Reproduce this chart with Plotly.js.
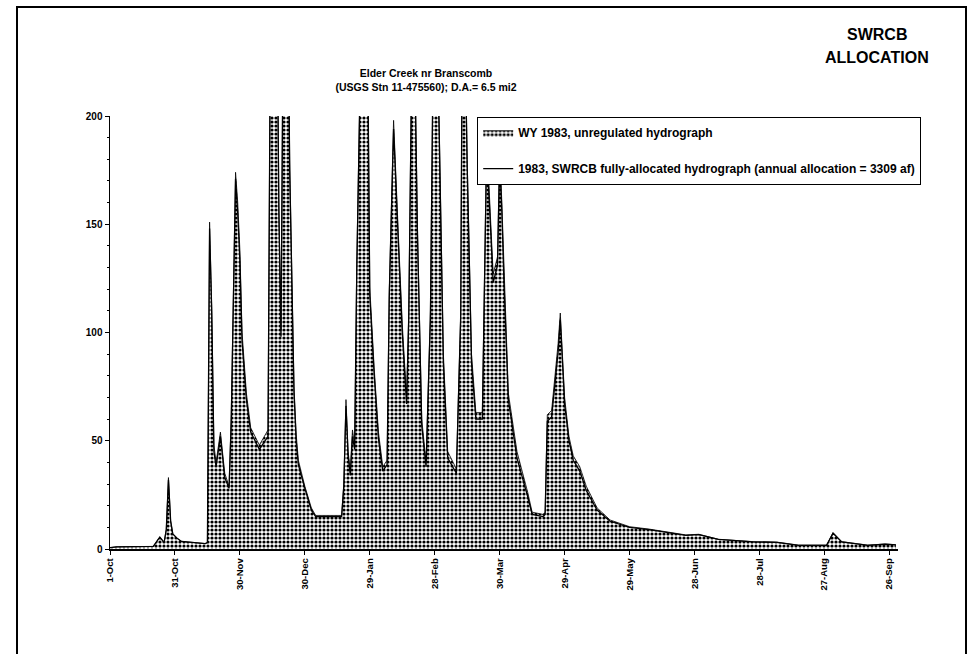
<!DOCTYPE html>
<html>
<head>
<meta charset="utf-8">
<script src="https://cdn.plot.ly/plotly-3.0.1.min.js"></script>
<style>
  html, body { margin: 0; padding: 0; background: #fff; }
  #chart { width: 969px; height: 654px; }
</style>
</head>
<body>
<div id="chart"></div>
<script>
// ---- data ----
const unregDates = [
  '1982-10-01','1982-10-04','1982-10-21','1982-10-24','1982-10-26','1982-10-27','1982-10-28','1982-10-29','1982-10-30',
  '1982-11-01','1982-11-03','1982-11-14','1982-11-15','1982-11-16','1982-11-17','1982-11-18','1982-11-19','1982-11-21',
  '1982-11-23','1982-11-25','1982-11-26','1982-11-27','1982-11-28','1982-11-29','1982-11-30',
  '1982-12-01','1982-12-03','1982-12-05','1982-12-09','1982-12-13','1982-12-14','1982-12-15','1982-12-17','1982-12-18',
  '1982-12-19','1982-12-20','1982-12-22','1982-12-23','1982-12-24','1982-12-25','1982-12-26','1982-12-27','1982-12-30',
  '1983-01-02','1983-01-04','1983-01-16','1983-01-17','1983-01-18','1983-01-19','1983-01-20','1983-01-21','1983-01-22',
  '1983-01-23','1983-01-24','1983-01-26','1983-01-28','1983-01-29','1983-01-31',
  '1983-02-02','1983-02-04','1983-02-06','1983-02-07','1983-02-09','1983-02-11','1983-02-13','1983-02-15','1983-02-16',
  '1983-02-18','1983-02-20','1983-02-22','1983-02-24','1983-02-26','1983-02-28',
  '1983-03-02','1983-03-04','1983-03-06','1983-03-10','1983-03-12','1983-03-13','1983-03-15','1983-03-17','1983-03-19',
  '1983-03-22','1983-03-24','1983-03-26','1983-03-27','1983-03-29','1983-03-30','1983-03-31',
  '1983-04-01','1983-04-03','1983-04-07','1983-04-12','1983-04-14','1983-04-19','1983-04-20','1983-04-21','1983-04-23',
  '1983-04-26','1983-04-27','1983-04-29',
  '1983-05-01','1983-05-03','1983-05-06','1983-05-09','1983-05-14','1983-05-20','1983-05-29',
  '1983-06-07','1983-06-24','1983-06-30','1983-07-09','1983-07-25','1983-08-05','1983-08-15','1983-08-28','1983-08-31',
  '1983-09-04','1983-09-16','1983-09-24','1983-09-29'
];
const unregFlow = [
  0.6, 1.0, 1.2, 5.5, 3.0, 9, 33, 13, 7,
  5, 3.5, 2.5, 3, 151, 112, 48, 40, 54,
  35, 29, 62, 122, 174, 160, 138,
  100, 72, 56, 48, 55, 230, 320, 280, 160,
  101, 250, 290, 180, 119, 75, 53, 41, 29,
  19, 15.5, 15.5, 30, 69, 45, 36, 55, 48,
  133, 230, 300, 240, 121, 84,
  54, 38, 41, 120, 198, 150, 104, 70, 110,
  280, 150, 60, 40, 110, 300,
  200, 90, 45, 37, 110, 300, 180, 90, 63,
  63, 190, 150, 127, 135, 185, 160,
  127, 72, 45, 26, 17, 16, 17, 62, 64,
  95, 109, 70,
  52, 43, 38, 29, 19, 13.4, 10.3,
  9.2, 6.5, 6.8, 4.5, 3.4, 3.2, 1.8, 1.8, 7.5,
  3.4, 1.8, 2.3, 2.0
];
const allocDates = unregDates;
const allocFlow = [
  0.6, 1.0, 1.2, 5.5, 3.0, 9, 32, 13, 7,
  5, 3.5, 2.5, 3, 148, 108, 45, 38, 52,
  33, 28, 58, 118, 171, 155, 133,
  96, 69, 54, 46, 52, 225, 315, 275, 155,
  98, 245, 285, 175, 115, 72, 50, 39, 28,
  18, 15, 15, 29, 66, 43, 34, 52, 46,
  129, 225, 295, 235, 117, 81,
  51, 36, 39, 116, 194, 146, 100, 67, 106,
  275, 146, 57, 38, 106, 295,
  195, 86, 42, 35, 106, 295, 176, 86, 60,
  60, 185, 146, 123, 131, 180, 156,
  123, 69, 42, 24, 16, 15, 16, 59, 61,
  91, 106, 67,
  50, 41, 36, 27, 18, 12.8, 10,
  9, 6.3, 6.6, 4.4, 3.3, 3.1, 1.7, 1.7, 7.3,
  3.3, 1.7, 2.2, 1.9
];
const tickStart = '1982-10-01';
const xRange = ['1982-10-01', '1983-09-30'];
const yTicks = [0, 50, 100, 150, 200];
const seriesNames = [
  'WY 1983, unregulated hydrograph',
  '1983, SWRCB fully-allocated hydrograph (annual allocation = 3309 af)'
];

const FONT = 'Liberation Sans, Arial, Helvetica, sans-serif';

const traces = [
  {
    x: unregDates, y: unregFlow, name: seriesNames[0],
    type: 'scatter', mode: 'lines', fill: 'tozeroy',
    line: { color: '#000', width: 0.8 },
    fillcolor: 'rgba(0,0,0,0)',
    fillpattern: { shape: '.', fgcolor: '#000', bgcolor: '#fff', size: 4, solidity: 0.5 },
    legendgroup: 'a', hoverinfo: 'x+y'
  },
  {
    x: allocDates, y: allocFlow, name: seriesNames[1],
    type: 'scatter', mode: 'lines',
    line: { color: '#000', width: 1.3 },
    legendgroup: 'b', hoverinfo: 'x+y'
  }
];

// plot area: x 110..898, y 116..549
const L = 110, R = 898, T = 116, B = 549;
const px = v => (v - L) / (R - L);
const py = v => (B - v) / (B - T);

const layout = {
  width: 969, height: 654,
  margin: { l: L, r: 969 - R, t: T, b: 654 - B, pad: 0 },
  paper_bgcolor: '#fff', plot_bgcolor: '#fff',
  font: { family: FONT, color: '#000' },
  title: {
    text: 'Elder Creek nr Branscomb<br>(USGS Stn 11-475560); D.A.= 6.5 mi2',
    x: 426 / 969, xanchor: 'center', xref: 'container',
    y: 1 - 77 / 654, yanchor: 'middle', yref: 'container',
    font: { family: FONT, size: 10.5, weight: 'bold', color: '#000' }
  },
  showlegend: true,
  legend: {
    x: px(477), y: py(117), xanchor: 'left', yanchor: 'top',
    bgcolor: '#fff', bordercolor: '#000', borderwidth: 1.2,
    font: { family: FONT, size: 12, weight: 'bold', color: '#000' },
    tracegroupgap: 17, itemwidth: 30
  },
  xaxis: {
    type: 'date', range: xRange,
    tick0: tickStart, dtick: 30 * 86400000, tickformat: '%-d-%b',
    tickangle: -90, ticks: 'outside', ticklen: 4, tickwidth: 1, tickcolor: '#000',
    showline: true, linecolor: '#000', linewidth: 1.5,
    showgrid: false, zeroline: false,
    tickfont: { family: FONT, size: 9.5, weight: 'bold', color: '#000' }
  },
  yaxis: {
    range: [0, 200], tickvals: yTicks,
    ticks: 'outside', ticklen: 4, tickwidth: 1, tickcolor: '#000',
    showline: true, linecolor: '#000', linewidth: 1.5,
    showgrid: false, zeroline: false,
    minor: { dtick: 10, ticks: 'outside', ticklen: 2, tickcolor: '#000', showgrid: false },
    tickfont: { family: FONT, size: 10, weight: 'bold', color: '#000' }
  },
  shapes: [
    {
      type: 'rect', xref: 'paper', yref: 'paper',
      x0: px(17), x1: px(966), y0: py(700), y1: py(7),
      line: { color: '#000', width: 2 }, fillcolor: 'rgba(0,0,0,0)', layer: 'below'
    }
  ],
  annotations: [
    {
      text: 'SWRCB', xref: 'paper', yref: 'paper', x: px(877), y: py(34),
      xanchor: 'center', yanchor: 'middle', showarrow: false,
      font: { family: FONT, size: 16, weight: 'bold', color: '#000' }
    },
    {
      text: 'ALLOCATION', xref: 'paper', yref: 'paper', x: px(877), y: py(58),
      xanchor: 'center', yanchor: 'middle', showarrow: false,
      font: { family: FONT, size: 16, weight: 'bold', color: '#000' }
    }
  ]
};

Plotly.newPlot('chart', traces, layout, { displayModeBar: false, staticPlot: true });
</script>
</body>
</html>
